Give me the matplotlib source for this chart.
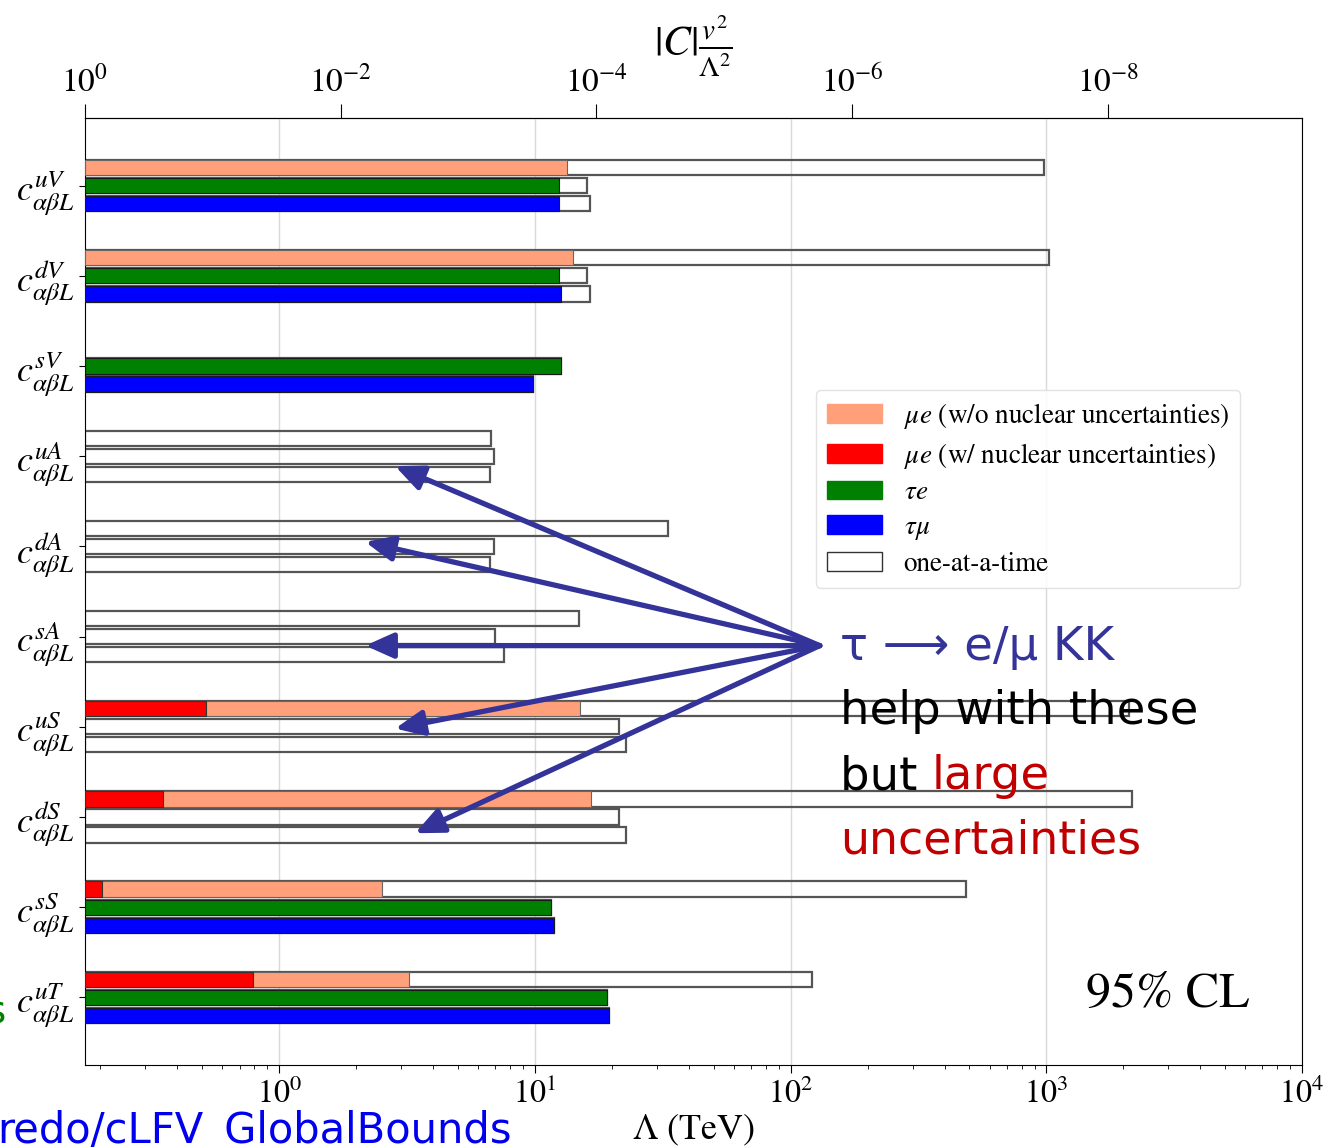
import numpy as np
import matplotlib
matplotlib.use("Agg")
import matplotlib.pyplot as plt
from matplotlib.ticker import NullLocator, LogFormatterMathtext
from matplotlib.patches import Patch

plt.rcParams['font.family'] = ['STIXGeneral', 'DejaVu Sans']
plt.rcParams['mathtext.fontset'] = 'stix'

# ---------------- data (Lambda in TeV) ----------------
categories = ['uV', 'dV', 'sV', 'uA', 'dA', 'sA', 'uS', 'dS', 'sS', 'uT']
cat_labels = [r'$c^{%s}_{\alpha\beta L}$' % c for c in categories]
nan = np.nan
mue_one = [980, 1025, nan, 6.74, 33.2, 14.9, 2100, 2160, 486, 121]
mue_wo = [13.4, 14.1, nan, nan, nan, nan, 15.0, 16.6, 2.53, 3.22]
mue_w = [nan, nan, nan, nan, nan, nan, 0.518, 0.352, 0.203, 0.791]
taue_one = [16.0, 16.0, 12.7, 6.93, 6.93, 7.0, 21.4, 21.4, 11.6, 19.2]
taue_glob = [12.4, 12.4, 12.7, nan, nan, nan, nan, nan, 11.6, 19.2]
taumu_one = [16.4, 16.4, 9.85, 6.68, 6.68, 7.58, 22.7, 22.7, 11.9, 19.5]
taumu_glob = [12.4, 12.7, 9.85, nan, nan, nan, nan, nan, 11.9, 19.5]

legend_labels = [r'$\mu e$ (w/o nuclear uncertainties)',
                 r'$\mu e$ (w/ nuclear uncertainties)',
                 r'$\tau e$', r'$\tau\mu$', 'one-at-a-time']
top_ticks = [1e0, 1e-2, 1e-4, 1e-6, 1e-8]

LAM0 = 0.174  # v/sqrt(2) in TeV
C_SALMON, C_RED, C_GREEN, C_BLUE = '#FFA07A', '#FF0000', '#008000', '#0000FF'

fig = plt.figure(figsize=(13.38, 11.47), dpi=100)
ax = fig.add_axes([85/1338, 1-1065/1147, 1217/1338, 947/1147])
ax.set_xscale('log')
ax.set_xlim(LAM0, 1e4)
ax.set_ylim(9.75, -0.75)

y = np.arange(len(categories))
h = 0.17
off = 0.2

ax.grid(axis='x', which='major', color='#d9d9d9', lw=1.0, zorder=0)
ax.set_axisbelow(True)

def bars(vals, dy, fc, ec, lw, z):
    v = np.asarray(vals, float)
    m = ~np.isnan(v)
    ax.barh(y[m] + dy, v[m] - LAM0, left=LAM0, height=h, facecolor=fc,
            edgecolor=ec, linewidth=lw, zorder=z)

# one-at-a-time (outlines)
bars(mue_one, -off, 'none', '#555555', 1.6, 2)
bars(taue_one, 0, 'none', '#555555', 1.6, 2)
bars(taumu_one, off, 'none', '#555555', 1.6, 2)
# global
bars(mue_wo, -off, C_SALMON, '#666666', 0.8, 3)
bars(mue_w, -off, C_RED, '#333333', 0.8, 4)
bars(taue_glob, 0, C_GREEN, '#1a1a1a', 0.8, 3)
bars(taumu_glob, off, C_BLUE, '#1a1a1a', 0.8, 3)

ax.set_yticks(y)
ax.set_yticklabels(cat_labels, fontsize=26)
ax.tick_params(axis='y', length=4, width=0.8, pad=3)
ax.tick_params(axis='x', which='major', labelsize=23, length=6, width=0.8, direction='out')
ax.tick_params(axis='x', which='minor', length=3, width=0.6)
ax.set_xlabel(r'$\Lambda$ (TeV)', fontsize=26, labelpad=2)

# top axis |C| v^2/Lambda^2
def fwd(x):
    x = np.asarray(x, float)
    with np.errstate(divide='ignore', invalid='ignore'):
        return (LAM0 / x) ** 2
def inv(c):
    c = np.asarray(c, float)
    with np.errstate(divide='ignore', invalid='ignore'):
        return LAM0 / np.sqrt(c)
sec = ax.secondary_xaxis('top', functions=(fwd, inv))
sec.set_xticks(top_ticks)
sec.xaxis.set_major_formatter(LogFormatterMathtext())
sec.xaxis.set_minor_locator(NullLocator())
sec.tick_params(axis='x', labelsize=24, length=10, width=0.8, pad=4)
sec.set_xlabel(r'$|C|\frac{v^2}{\Lambda^2}$', fontsize=30, labelpad=6)

# legend
handles = [Patch(facecolor=C_SALMON, edgecolor=C_SALMON),
           Patch(facecolor=C_RED, edgecolor=C_RED),
           Patch(facecolor=C_GREEN, edgecolor=C_GREEN),
           Patch(facecolor=C_BLUE, edgecolor=C_BLUE),
           Patch(facecolor='white', edgecolor='#333333')]
leg = ax.legend(handles, legend_labels, loc='upper right',
                bbox_to_anchor=((1240-85)/1217, (1065-390)/947),
                borderaxespad=0, fontsize=19.5, handlelength=2.05,
                handleheight=0.7, labelspacing=0.36, handletextpad=0.8,
                borderpad=0.4, framealpha=0.85, edgecolor='#dddddd', fancybox=True)
leg.set_zorder(5)

ax.text((1250-85)/1217, (1065-995)/947, '95% CL', transform=ax.transAxes,
        ha='right', va='center', fontsize=36, zorder=6)

# annotation arrows
src = (130, 5.1)
targets = [(2.84, 3.11), (2.17, 3.95), (2.17, 5.10), (2.84, 6.02), (3.40, 7.18)]
for t in targets:
    ax.annotate('', xy=t, xytext=src, xycoords='data',
                arrowprops=dict(arrowstyle='-|>,head_length=0.85,head_width=0.38',
                                lw=3.8, color='#333399', shrinkA=0, shrinkB=0,
                                mutation_scale=20), zorder=7)

# annotation text
sans = ['DejaVu Sans']
def fy(py):
    return 1 - py/1147
tx = 840/1338
fig.text(tx, fy(660), 'τ ⟶ e/μ KK', color='#333399', fontsize=33.5,
         family=sans, va='baseline', ha='left', zorder=8)
fig.text(tx, fy(724), 'help with these', color='black', fontsize=33.5,
         family=sans, va='baseline', ha='left', zorder=8)
t_but = fig.text(tx, fy(789), 'but ', color='black', fontsize=33.5,
                 family=sans, va='baseline', ha='left', zorder=8)
fig.canvas.draw()
bb = t_but.get_window_extent()
fig.text(bb.x1/fig.bbox.width, fy(789), 'large', color='#C00000', fontsize=33.5,
         family=sans, va='baseline', ha='left', zorder=8)
fig.text(tx, fy(853), 'uncertainties', color='#C00000', fontsize=33,
         family=sans, va='baseline', ha='left', zorder=8)

# clipped slide remnants
fig.text(-0.002, fy(1143), 'redo/cLFV_GlobalBounds', color='#0000EE', fontsize=30,
         family=sans, va='baseline', ha='left')
fig.text(6/1338, fy(1023), 's', color='#008000', fontsize=28,
         family=sans, va='baseline', ha='right')

fig.savefig('out.png', dpi=100)
